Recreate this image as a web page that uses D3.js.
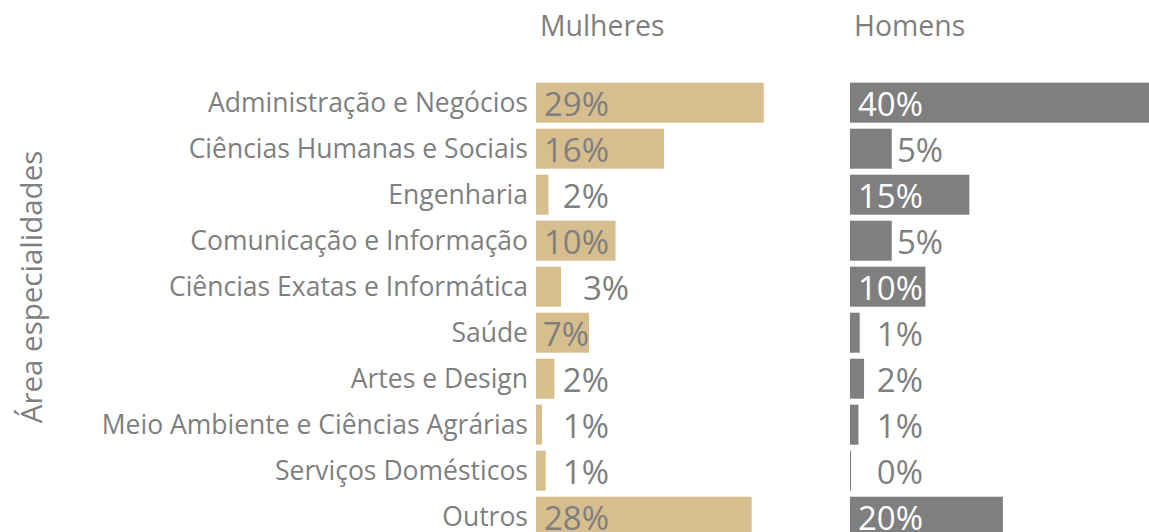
<!DOCTYPE html>
<html>
<head>
<meta charset="utf-8">
<script src="https://cdn.jsdelivr.net/npm/d3@7"></script>
<style>
  html, body { margin: 0; padding: 0; background: #fff; overflow: hidden; }
  svg text { font-family: "Open Sans", sans-serif; }
</style>
</head>
<body>
<script>
const categories = [
  "Administração e Negócios",
  "Ciências Humanas e Sociais",
  "Engenharia",
  "Comunicação e Informação",
  "Ciências Exatas e Informática",
  "Saúde",
  "Artes e Design",
  "Meio Ambiente e Ciências Agrárias",
  "Serviços Domésticos",
  "Outros"
];
const mulheres = [29.2, 16.4, 1.6, 10.2, 3.2, 6.8, 2.35, 0.77, 1.24, 27.65];
const homens   = [40.4, 5.35, 15.3, 5.35, 9.67, 1.24, 1.8, 1.08, 0.13, 19.6];
const panelTitles = ["Mulheres", "Homens"];
const yAxisTitle = "Área especialidades";

const W = 1149, H = 532;
const textColor = "#7f7f7f";
const panels = [
  { title: panelTitles[0], values: mulheres, x0: 536, fill: "#d6be8f", inside: "#7f7f7f" },
  { title: panelTitles[1], values: homens,   x0: 850, fill: "#7f7f7f", inside: "#ffffff" }
];

const svg = d3.select("body").append("svg").attr("width", W).attr("height", H);

const y = d3.scaleBand().domain(categories).range([79.7, 539.7])
  .paddingInner(0.1304).paddingOuter(0.065);
const x = d3.scaleLinear().domain([0, 40]).range([0, 312]);

// category labels
const yAxis = d3.axisLeft(y).tickSize(0).tickPadding(0);
const gy = svg.append("g").attr("transform", "translate(528,0)").call(yAxis);
gy.select(".domain").remove();
gy.selectAll("text")
  .attr("fill", textColor)
  .attr("dy", "0.34em")
  .style("font-size", "26.5px")
  .style("font-family", "'Open Sans', sans-serif");

// y title
svg.append("text")
  .attr("transform", "translate(30,287) rotate(-90)")
  .attr("text-anchor", "middle")
  .attr("dominant-baseline", "central")
  .attr("fill", textColor)
  .style("font-size", "29.5px")
  .text(yAxisTitle);

const fmt = v => Math.round(v) + "%";

panels.forEach(p => {
  const g = svg.append("g").attr("transform", `translate(${p.x0},0)`);
  g.append("text")
    .attr("x", 4).attr("y", 36)
    .attr("fill", textColor)
    .style("font-size", "28.4px")
    .text(p.title);

  g.selectAll("rect").data(p.values).join("rect")
    .attr("x", 0)
    .attr("y", (d, i) => y(categories[i]))
    .attr("width", d => Math.max(1, x(d)))
    .attr("height", y.bandwidth())
    .attr("fill", p.fill);

  g.selectAll("text.lbl").data(p.values).join("text")
    .attr("class", "lbl")
    .attr("y", (d, i) => y(categories[i]) + y.bandwidth() / 2 + 13)
    .style("font-size", "33px")
    .each(function (d) {
      const w = x(d);
      const t = d3.select(this);
      if (w >= 20 && w < 47) {
        t.attr("x", 47).attr("text-anchor", "start").attr("fill", textColor);
      } else if (w >= 47 && w < 74) {
        t.attr("x", w).attr("text-anchor", "end").attr("fill", p.inside);
      } else {
        t.attr("x", 73).attr("text-anchor", "end")
          .attr("fill", w >= 74 ? p.inside : textColor);
      }
    })
    .text(d => fmt(d));
});
</script>
</body>
</html>
